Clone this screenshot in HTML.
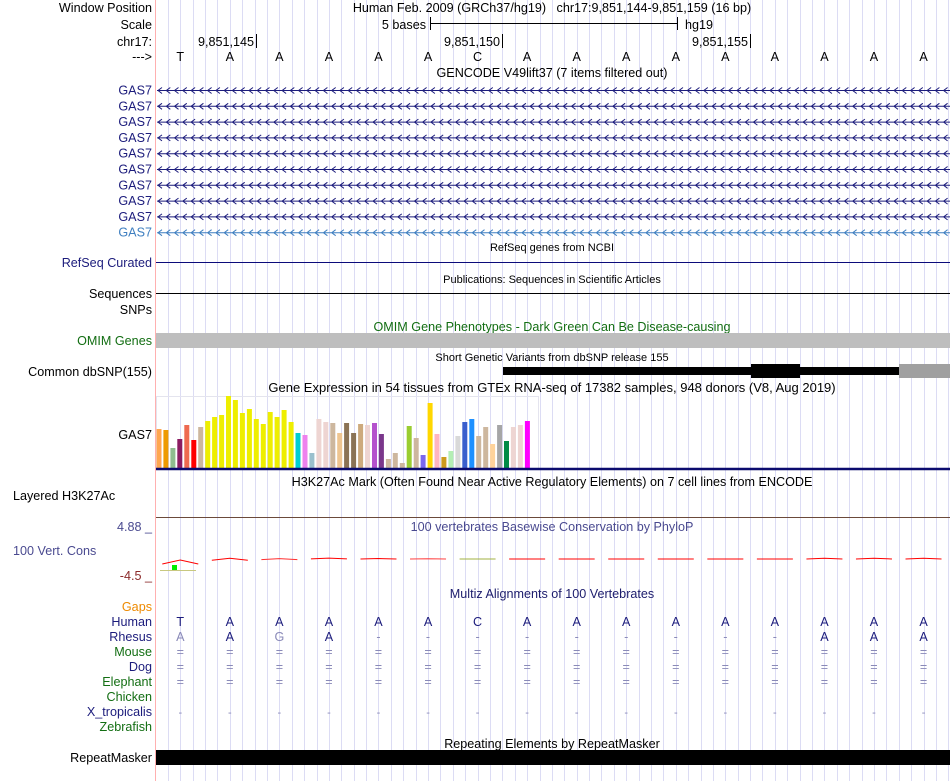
<!DOCTYPE html>
<html><head><meta charset="utf-8"><style>
html,body{margin:0;padding:0;background:#fff;}
svg{display:block;font-family:"Liberation Sans",sans-serif;}
</style></head><body>
<svg id="s" width="950" height="781" xmlns="http://www.w3.org/2000/svg">
<g id="grid"></g>
<line x1="155.5" y1="0" x2="155.5" y2="781" stroke="#ffb0b0" stroke-width="1"/>
<g font-size="12.6" fill="#000" text-anchor="end">
<text x="152" y="12">Window Position</text>
<text x="152" y="29">Scale</text>
<text x="152" y="46">chr17:</text>
<text x="152" y="61">---&gt;</text>
</g>
<text x="552" y="12" font-size="12.6" text-anchor="middle">Human Feb. 2009 (GRCh37/hg19)&#160;&#160;&#160;chr17:9,851,144-9,851,159 (16 bp)</text>
<text x="426" y="29" font-size="12.6" text-anchor="end">5 bases</text>
<g stroke="#000"><line x1="430" y1="23.5" x2="678" y2="23.5"/><line x1="430.5" y1="17" x2="430.5" y2="30"/><line x1="677.5" y1="17" x2="677.5" y2="30"/></g>
<text x="685" y="29" font-size="12.6">hg19</text>
<g font-size="12.6" text-anchor="end">
<text x="254" y="46">9,851,145</text><line x1="256.5" y1="34" x2="256.5" y2="48" stroke="#000"/>
<text x="500" y="46">9,851,150</text><line x1="502.5" y1="34" x2="502.5" y2="48" stroke="#000"/>
<text x="748" y="46">9,851,155</text><line x1="750.5" y1="34" x2="750.5" y2="48" stroke="#000"/>
</g>
<g id="bases" font-size="12.6" text-anchor="middle"></g>
<text x="552" y="77" font-size="12.6" text-anchor="middle">GENCODE V49lift37 (7 items filtered out)</text>
<g id="gencode"></g>
<text x="552" y="251" font-size="11" text-anchor="middle">RefSeq genes from NCBI</text>
<text x="152" y="267" font-size="12.6" fill="#1c1c7c" text-anchor="end">RefSeq Curated</text>
<line x1="156" y1="262.5" x2="950" y2="262.5" stroke="#0b0b7a"/>
<text x="552" y="283" font-size="11" text-anchor="middle">Publications: Sequences in Scientific Articles</text>
<text x="152" y="298" font-size="12.6" text-anchor="end">Sequences</text>
<line x1="156" y1="293.5" x2="950" y2="293.5" stroke="#000"/>
<text x="152" y="314" font-size="12.6" text-anchor="end">SNPs</text>
<text x="552" y="331" font-size="12.6" fill="#136e13" text-anchor="middle">OMIM Gene Phenotypes - Dark Green Can Be Disease-causing</text>
<text x="152" y="345" font-size="12.6" fill="#136e13" text-anchor="end">OMIM Genes</text>
<rect x="156" y="333" width="794" height="15" fill="#bebebe"/>
<text x="552" y="361" font-size="11" text-anchor="middle">Short Genetic Variants from dbSNP release 155</text>
<text x="152" y="376" font-size="12.6" text-anchor="end">Common dbSNP(155)</text>
<rect x="503" y="367" width="447" height="8" fill="#000"/>
<rect x="751" y="364" width="49" height="14" fill="#000"/>
<rect x="899" y="364" width="51" height="14" fill="#a0a0a0"/>
<text x="552" y="392" font-size="13" text-anchor="middle">Gene Expression in 54 tissues from GTEx RNA-seq of 17382 samples, 948 donors (V8, Aug 2019)</text>
<text x="152" y="439" font-size="12.6" text-anchor="end">GAS7</text>
<rect x="156.5" y="396.5" width="382" height="72" fill="none" stroke="#e4e4ee"/>
<g id="gtex"></g>
<line x1="156" y1="469" x2="950" y2="469" stroke="#0b0b6e" stroke-width="2.5"/>
<text x="552" y="486" font-size="12.6" text-anchor="middle">H3K27Ac Mark (Often Found Near Active Regulatory Elements) on 7 cell lines from ENCODE</text>
<text x="13" y="500" font-size="12.6">Layered H3K27Ac</text>
<line x1="156" y1="517.5" x2="950" y2="517.5" stroke="#6b4a3a"/>
<text x="152" y="531" font-size="12.6" fill="#4a4a90" text-anchor="end">4.88 _</text>
<text x="13" y="555" font-size="12.6" fill="#4a4a90">100 Vert. Cons</text>
<text x="152" y="580" font-size="12.6" fill="#8b2a2a" text-anchor="end">-4.5 _</text>
<text x="552" y="531" font-size="12.6" fill="#4a4a90" text-anchor="middle">100 vertebrates Basewise Conservation by PhyloP</text>
<g id="cons"></g>
<text x="552" y="598" font-size="12.6" fill="#1c1c6c" text-anchor="middle">Multiz Alignments of 100 Vertebrates</text>
<g id="multiz"></g>
<text x="552" y="748" font-size="12.6" text-anchor="middle">Repeating Elements by RepeatMasker</text>
<text x="152" y="762" font-size="12.6" text-anchor="end">RepeatMasker</text>
<rect x="156" y="750" width="794" height="15" fill="#000"/>
</svg>
<script>
const NS="http://www.w3.org/2000/svg";
const bases=["T","A","A","A","A","A","C","A","A","A","A","A","A","A","A","A"];
const rhesus=["A","A","G","A","-","-","-","-","-","-","-","-","-","A","A","A"];
const rhesusMatch=[0,1,0,1,0,0,0,0,0,0,0,0,0,1,1,1];
const gtexValues=[39,38,20,29,43,28,41,47,51,53,72,68,55,59,49,44,56,51,58,46,35,33,15,49,46,45,35,45,35,44,43,45,34,9,15,5,42,30,13,65,34,11,17,32,46,49,32,41,24,43,27,41,43,47];
const gtexColors=["#FFA54F","#EE9A00","#8FBC8F","#8B1C62","#EE6A50","#FF0000","#CDB79E","#EEEE00","#EEEE00","#EEEE00","#EEEE00","#EEEE00","#EEEE00","#EEEE00","#EEEE00","#EEEE00","#EEEE00","#EEEE00","#EEEE00","#EEEE00","#00CED1","#EE82EE","#9AC0CD","#EED5D2","#EED5D2","#CDB79E","#EEC591","#8B7355","#8B7355","#CDAA7D","#EED5D2","#B452CD","#7A378B","#CDB79E","#CDB79E","#CDB79E","#9ACD32","#CDB79E","#7B68EE","#FFD700","#FFB6C1","#CD9B1D","#B4EEB4","#D9D9D9","#3A5FCD","#1E90FF","#CDB79E","#CDB79E","#FFD39B","#A6A6A6","#008B45","#EED5D2","#EED5D2","#FF00FF"];
const consValues=[4,2,1,0.8,0.5,0.2,0,0,0,0,0,0,0,0.8,0.8,0.8];
const consColors=["#ff0000","#ff0000","#ff3030","#ff0000","#ff0000","#ff4040","#a0b040","#ff0000","#ff0000","#ff0000","#ff0000","#ff0000","#ff0000","#ff0000","#ff0000","#ff0000"];
const gencodeRows=10;
const species=[["Gaps","#ee8a00"],["Human","#1c1c7c"],["Rhesus","#1c1c7c"],["Mouse","#136e13"],["Dog","#1c1c7c"],["Elephant","#136e13"],["Chicken","#136e13"],["X_tropicalis","#1c1c7c"],["Zebrafish","#136e13"]];

const X0=155.5, BW=49.55;
const baseX=i=>X0+BW*(i+0.5);
const gtexX=i=>156.5+i*6.95;
const gtexY=v=>468-v;
function mk(tag,attrs,parent,text){const e=document.createElementNS(NS,tag);for(const k in attrs)e.setAttribute(k,attrs[k]);if(text!=null)e.textContent=text;parent.appendChild(e);return e;}

const grid=document.getElementById('grid');
for(let k=1;k<=64;k++){const x=Math.round(X0+k*BW/4)+0.5;const l=mk('line',{x1:x,y1:0,x2:x,y2:781,stroke:'#dcdcf4'},grid);

}

const bg=document.getElementById('bases');
bases.forEach((b,i)=>{const t=mk('text',{x:baseX(i),y:61},bg,b);

});

const gc=document.getElementById('gencode');
for(let r=0;r<gencodeRows;r++){const y=90+r*15.8;const col=r==gencodeRows-1?'#3f7fc0':'#1c1c7c';
const lab=mk('text',{x:152,y:y+4.5,'font-size':12.6,fill:col,'text-anchor':'end'},gc,'GAS7');


let d='M157 '+(y+0.5)+' H950 ';for(let x=158;x<948;x+=8.27){d+='M'+(x+4).toFixed(1)+' '+(y-2.5)+' L'+x.toFixed(1)+' '+(y+0.5)+' L'+(x+4).toFixed(1)+' '+(y+3.5)+' ';}
const p=mk('path',{d:d,stroke:col,fill:'none','stroke-width':1},gc);

}

const gt=document.getElementById('gtex');
gtexValues.forEach((v,i)=>{const r=mk('rect',{x:gtexX(i).toFixed(1),y:gtexY(v),width:5,height:v,fill:gtexColors[i]},gt);

});

const cg=document.getElementById('cons');
consValues.forEach((v,i)=>{const cx=baseX(i);const base=i==0?564:(i<4?561-i*0.7:559);
const p=mk('path',{d:`M${cx-18} ${base} L${cx} ${base-v} L${cx+18} ${base}`,stroke:consColors[i],fill:'none','stroke-width':1},cg);

});
{const r=mk('rect',{x:172,y:565,width:5,height:5,fill:'#00ee00'},cg);


const l=mk('line',{x1:160,y1:570.5,x2:196,y2:570.5,stroke:'#c8c880'},cg);

}

const mz=document.getElementById('multiz');
species.forEach((s,j)=>{const y=611+j*15;const t=mk('text',{x:152,y:y,'font-size':12.6,fill:s[1],'text-anchor':'end'},mz,s[0]);

});
bases.forEach((b,i)=>{const x=baseX(i);
const h=mk('text',{x:x,y:626,'font-size':12.6,fill:'#1c1c7c','text-anchor':'middle'},mz,b);


const r=mk('text',{x:x,y:641,'font-size':12.6,fill:rhesusMatch[i]?'#1c1c7c':'#8a8ab8','text-anchor':'middle'},mz,rhesus[i]);


[656,671,686].forEach(y=>{const e=mk('text',{x:x,y:y,'font-size':12.6,fill:'#8a8ab8','text-anchor':'middle'},mz,'=');

});
const d=mk('text',{x:x,y:716,'font-size':11,fill:'#8a8ab8','text-anchor':'middle'},mz,'-');

});
</script>
</body></html>
